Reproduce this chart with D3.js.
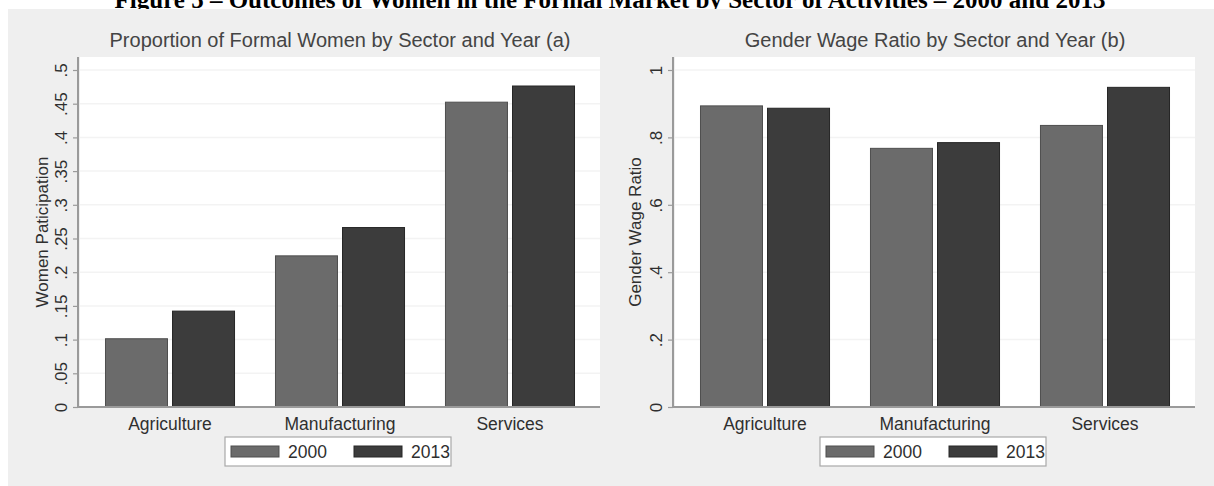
<!DOCTYPE html>
<html>
<head>
<meta charset="utf-8">
<script src="https://cdn.jsdelivr.net/npm/d3@7"></script>
<style>
  html, body { margin: 0; padding: 0; background: #fff; }
  svg { display: block; font-family: "Liberation Sans", Arial, sans-serif; }
</style>
</head>
<body>
<svg id="chart" width="1214" height="486"></svg>
<script>
// data
const sectors = ["Agriculture", "Manufacturing", "Services"];
const years = ["2000", "2013"];
const womenShare2000 = [0.102, 0.225, 0.453];
const womenShare2013 = [0.143, 0.267, 0.477];
const wageRatio2000 = [0.895, 0.769, 0.837];
const wageRatio2013 = [0.888, 0.786, 0.95];
const shareTicks = [0, 0.05, 0.1, 0.15, 0.2, 0.25, 0.3, 0.35, 0.4, 0.45, 0.5];
const ratioTicks = [0, 0.2, 0.4, 0.6, 0.8, 1];

const colours = { "2000": "#6b6b6b", "2013": "#3c3c3c" };
const outlines = { "2000": "#4e4e4e", "2013": "#262626" };

// stata style labels: no leading zero
const stataFormat = (d) => (d === 0 ? "0" : d3.format("")(d).replace(/^0\./, "."));

const svg = d3.select("#chart");

// figure caption, cut off at the top of the picture
svg
  .append("text")
  .attr("x", 610)
  .attr("y", 8)
  .attr("text-anchor", "middle")
  .style("font-family", "'Liberation Serif', 'Times New Roman', serif")
  .style("font-weight", "bold")
  .style("font-size", "25px")
  .style("fill", "#000")
  .text("Figure 5 \u2013 Outcomes of Women in the Formal Market by Sector of Activities \u2013 2000 and 2013");

// graph region
svg
  .append("rect")
  .attr("x", 8)
  .attr("y", 9)
  .attr("width", 1206)
  .attr("height", 477)
  .style("fill", "#efefef");

const panel = (opts) => {
  const { x0, x1, title, yTitle, ticks, domainMax, v2000, v2013, tickLabelX, yTitleX } = opts;
  const top = 57;
  const bottom = 407;
  const g = svg.append("g");

  g.append("rect")
    .attr("x", x0)
    .attr("y", top)
    .attr("width", x1 - x0)
    .attr("height", bottom - top)
    .style("fill", "#fff");

  const y = d3.scaleLinear().domain([0, domainMax]).range([bottom, 70]);
  const x = d3
    .scaleBand()
    .domain(sectors)
    .range([x0, x1])
    .paddingInner(0.235)
    .paddingOuter(0.147);
  const xYear = d3.scaleBand().domain(years).range([0, x.bandwidth()]).paddingInner(0.06);

  // gridlines
  g.selectAll("line.grid")
    .data(ticks.filter((t) => t > 0))
    .join("line")
    .attr("class", "grid")
    .attr("x1", x0)
    .attr("x2", x1)
    .attr("y1", (d) => y(d))
    .attr("y2", (d) => y(d))
    .style("stroke", "#f3f3f3")
    .style("stroke-width", 1.5);

  const rows = sectors.map((s, i) => ({ sector: s, "2000": v2000[i], "2013": v2013[i] }));
  const groups = g
    .selectAll("g.sector")
    .data(rows)
    .join("g")
    .attr("class", "sector")
    .attr("transform", (d) => `translate(${x(d.sector)},0)`);

  groups
    .selectAll("rect.bar")
    .data((d) => years.map((yr) => ({ year: yr, value: d[yr] })))
    .join("rect")
    .attr("class", "bar")
    .attr("x", (d) => xYear(d.year) + 0.5)
    .attr("y", (d) => y(d.value) + 0.5)
    .attr("width", xYear.bandwidth() - 1)
    .attr("height", (d) => bottom - y(d.value) - 0.5)
    .style("fill", (d) => colours[d.year])
    .style("stroke", (d) => outlines[d.year])
    .style("stroke-width", 1);

  // y axis
  const yAxis = d3.axisLeft(y).tickValues(ticks).tickSize(5).tickFormat(stataFormat);
  const yAxisGroup = g.append("g").attr("transform", `translate(${x0 - 2},0)`).call(yAxis);
  yAxisGroup.select(".domain").remove();
  yAxisGroup.selectAll(".tick line").style("stroke", "#9a9a9a").style("stroke-width", 1.2);
  yAxisGroup
    .selectAll(".tick text")
    .attr("x", null)
    .attr("dy", null)
    .attr("transform", `translate(${tickLabelX - (x0 - 2)},0) rotate(-90)`)
    .attr("text-anchor", "middle")
    .style("font-size", "17px")
    .style("fill", "#2f2f2f");

  g.append("line")
    .attr("x1", x0 - 2)
    .attr("x2", x0 - 2)
    .attr("y1", top)
    .attr("y2", bottom)
    .style("stroke", "#9a9a9a")
    .style("stroke-width", 2);

  // x axis
  g.append("line")
    .attr("x1", x0 - 3)
    .attr("x2", x1)
    .attr("y1", bottom)
    .attr("y2", bottom)
    .style("stroke", "#9a9a9a")
    .style("stroke-width", 2);

  g.selectAll("text.cat")
    .data(sectors)
    .join("text")
    .attr("class", "cat")
    .attr("x", (d) => x(d) + x.bandwidth() / 2)
    .attr("y", 430)
    .attr("text-anchor", "middle")
    .style("font-size", "17.5px")
    .style("fill", "#2f2f2f")
    .text((d) => d);

  // titles
  g.append("text")
    .attr("x", (x0 + x1) / 2)
    .attr("y", 47)
    .attr("text-anchor", "middle")
    .style("font-size", "20px")
    .style("fill", "#444")
    .text(title);

  g.append("text")
    .attr("transform", `translate(${yTitleX},${(top + bottom) / 2}) rotate(-90)`)
    .attr("text-anchor", "middle")
    .style("font-size", "17px")
    .style("fill", "#2f2f2f")
    .text(yTitle);

  // legend
  const cx = (x0 + x1) / 2;
  const legend = g.append("g").attr("transform", `translate(${cx - 115},437)`);
  legend
    .append("rect")
    .attr("width", 226)
    .attr("height", 29)
    .style("fill", "#fff")
    .style("stroke", "#a8a8a8")
    .style("stroke-width", 1.2);
  const items = legend
    .selectAll("g.item")
    .data(years)
    .join("g")
    .attr("class", "item")
    .attr("transform", (d, i) => `translate(${6 + i * 123},0)`);
  items
    .append("rect")
    .attr("y", 9)
    .attr("width", 48)
    .attr("height", 11)
    .style("fill", (d) => colours[d])
    .style("stroke", (d) => outlines[d])
    .style("stroke-width", 1);
  items
    .append("text")
    .attr("x", 57)
    .attr("y", 21)
    .style("font-size", "17.5px")
    .style("fill", "#2f2f2f")
    .text((d) => d);
};

panel({
  x0: 80,
  x1: 600,
  title: "Proportion of Formal Women by Sector and Year (a)",
  yTitle: "Women Paticipation",
  ticks: shareTicks,
  domainMax: 0.5,
  v2000: womenShare2000,
  v2013: womenShare2013,
  tickLabelX: 67,
  yTitleX: 48,
});

panel({
  x0: 675,
  x1: 1195,
  title: "Gender Wage Ratio by Sector and Year (b)",
  yTitle: "Gender Wage Ratio",
  ticks: ratioTicks,
  domainMax: 1,
  v2000: wageRatio2000,
  v2013: wageRatio2013,
  tickLabelX: 662,
  yTitleX: 641,
});
</script>
</body>
</html>
